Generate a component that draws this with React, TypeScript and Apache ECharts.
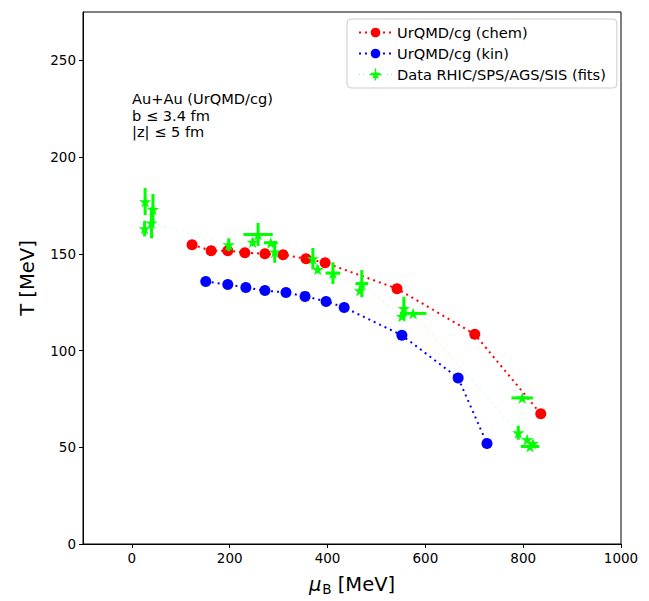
import React, { useEffect, useRef } from "react";
import * as echarts from "echarts";

const xTicks = [0, 200, 400, 600, 800, 1000];
const yTicks = [0, 50, 100, 150, 200, 250];

const chemX = [123, 162, 196, 231, 272, 309, 356, 395, 542, 701, 836];
const chemY = [154.7, 151.6, 151.6, 150.6, 150.0, 149.5, 147.5, 145.4, 132, 108.4, 67.3];

const kinX = [151, 196, 233, 272, 315, 354, 397, 434, 552, 667, 726];
const kinY = [135.7, 134.1, 132.6, 131.0, 130.0, 128.0, 125.4, 122.3, 107.9, 85.8, 51.9];

const dataX = [27, 43, 26, 40, 198, 247, 258, 284, 292, 370, 380, 411, 466, 470, 552, 556, 575, 790, 798, 808, 814, 820];
const dataY = [177, 173, 163, 166, 154.7, 156, 160, 155.7, 151, 147.5, 142, 140, 131, 134.6, 117.7, 121.8, 119.2, 57.5, 75.5, 54, 50.4, 52];
const dataXErr = [0, 0, 0, 0, 0, 0, 30, 14, 0, 0, 0, 15, 0, 13, 0, 0, 27, 0, 22, 0, 19, 0];
const dataYErr = [7, 8, 4, 8, 3.3, 2, 6, 0, 5.6, 5.5, 2, 5.6, 0, 7, 0, 6, 0, 3.6, 0, 0, 0, 0];

const seriesNames = ["UrQMD/cg (chem)", "UrQMD/cg (kin)", "Data RHIC/SPS/AGS/SIS (fits)"];
const noteLines = ["Au+Au (UrQMD/cg)", "b \u2264 3.4 fm", "|z| \u2264 5 fm"];

const FONT = "DejaVu Sans";
const GREEN = "#00ff00";

function starPts(cx: number, cy: number, r: number, ri: number): string {
  const pts: string[] = [];
  for (let k = 0; k < 10; k++) {
    const a = -Math.PI / 2 + (k * Math.PI) / 5;
    const rr = k % 2 === 0 ? r : ri;
    pts.push((cx + rr * Math.cos(a)).toFixed(3) + " " + (cy + rr * Math.sin(a)).toFixed(3));
  }
  return "M" + pts.join(" L") + " Z";
}

const starSymbol = "path://" + starPts(0, 0, 1, 0.38);

function rectP(x: number, y: number, w: number, h: number): string {
  return `M${x} ${y} L${x + w} ${y} L${x + w} ${y + h} L${x} ${y + h} Z`;
}

const legendGreenIcon =
  "path://" +
  [
    rectP(0, 5.7, 1, 0.6),
    rectP(4, 5.7, 1, 0.6),
    rectP(28, 5.7, 1, 0.6),
    rectP(32, 5.7, 1, 0.6),
    rectP(15.8, 0, 1.4, 12),
    rectP(10.5, 5.3, 12, 1.4),
    starPts(16.5, 6, 5.5, 2.1),
  ].join(" ");

export default function App() {
  const ref = useRef<HTMLDivElement>(null);
  useEffect(() => {
    document.body.style.margin = "0";
    const chart = echarts.init(ref.current!, null, { renderer: "svg" });
    const axisCommon = {
      axisLine: { show: true, onZero: false, lineStyle: { color: "#000", width: 1 } },
      axisTick: { show: true, inside: false, length: 4, lineStyle: { color: "#000" } },
      splitLine: { show: false },
    };
    const option: any = {
      animation: false,
      backgroundColor: "#fff",
      grid: {
        left: 83,
        top: 12,
        width: 538,
        height: 535,
        show: true,
        borderColor: "#000",
        borderWidth: 1,
        backgroundColor: "transparent",
      },
      xAxis: {
        type: "value",
        min: -100,
        max: 1000,
        ...axisCommon,
        axisTick: { ...axisCommon.axisTick, customValues: xTicks },
        axisLabel: {
          customValues: xTicks,
          formatter: (v: number) => String(v),
          color: "#000",
          fontFamily: FONT,
          fontSize: 13.5,
          margin: 7,
        },
        name: "{i|\u03bc}{s|B}{t| [MeV]}",
        nameLocation: "middle",
        nameGap: 29,
        nameTextStyle: {
          color: "#000",
          fontFamily: FONT,
          rich: {
            i: { fontFamily: FONT, fontStyle: "italic", fontSize: 19.5, color: "#000" },
            s: { fontFamily: FONT, fontSize: 13.5, color: "#000", padding: [9, 0, 0, 1] },
            t: { fontFamily: FONT, fontSize: 19.5, color: "#000" },
          },
        },
      },
      yAxis: {
        type: "value",
        min: 0,
        max: 275,
        ...axisCommon,
        axisTick: { ...axisCommon.axisTick, customValues: yTicks },
        axisLabel: {
          customValues: yTicks,
          formatter: (v: number) => String(v),
          color: "#000",
          fontFamily: FONT,
          fontSize: 13.5,
          margin: 7,
        },
        name: "T [MeV]",
        nameLocation: "middle",
        nameGap: 46,
        nameTextStyle: { color: "#000", fontFamily: FONT, fontSize: 19.5 },
      },
      legend: {
        orient: "vertical",
        left: 347,
        top: 19,
        padding: [5, 11, 5, 11],
        itemGap: 4,
        itemWidth: 33,
        itemHeight: 12,
        borderColor: "#cccccc",
        borderWidth: 1,
        borderRadius: 4,
        backgroundColor: "#fff",
        textStyle: { color: "#000", fontFamily: FONT, fontSize: 14.6, lineHeight: 17 },
        data: [
          { name: seriesNames[0] },
          { name: seriesNames[1] },
          { name: seriesNames[2], icon: legendGreenIcon, itemStyle: { color: GREEN } },
        ],
      },
      graphic: noteLines.map((t, i) => ({
        type: "text",
        left: 132,
        top: 91 + i * 16.5,
        style: { text: t, fill: "#000", font: `14.6px "${FONT}"` },
      })),
      series: [
        {
          name: seriesNames[0],
          type: "line",
          data: chemX.map((x, i) => [x, chemY[i]]),
          symbol: "circle",
          symbolSize: 11,
          itemStyle: { color: "#ff0000" },
          lineStyle: { color: "#ff0000", width: 2, type: [2, 4] },
          z: 2,
        },
        {
          name: seriesNames[1],
          type: "line",
          data: kinX.map((x, i) => [x, kinY[i]]),
          symbol: "circle",
          symbolSize: 11,
          itemStyle: { color: "#0000ff" },
          lineStyle: { color: "#0000ff", width: 2, type: [2, 4] },
          z: 2,
        },
        {
          name: seriesNames[2] + " err",
          type: "custom",
          data: dataX.map((x, i) => [x, dataY[i], dataXErr[i], dataYErr[i]]),
          encode: { x: 0, y: 1 },
          z: 3,
          renderItem: (params: any, api: any) => {
            const x = api.value(0);
            const y = api.value(1);
            const xe = api.value(2);
            const ye = api.value(3);
            const children: any[] = [];
            if (ye > 0) {
              const p1 = api.coord([x, y - ye]);
              const p2 = api.coord([x, y + ye]);
              children.push({
                type: "line",
                shape: { x1: p1[0], y1: p1[1], x2: p2[0], y2: p2[1] },
                style: { stroke: GREEN, lineWidth: 3 },
              });
            }
            if (xe > 0) {
              const p1 = api.coord([x - xe, y]);
              const p2 = api.coord([x + xe, y]);
              children.push({
                type: "line",
                shape: { x1: p1[0], y1: p1[1], x2: p2[0], y2: p2[1] },
                style: { stroke: GREEN, lineWidth: 3 },
              });
            }
            return { type: "group", children };
          },
        },
        {
          name: seriesNames[2],
          type: "line",
          data: dataX.map((x, i) => [x, dataY[i]]),
          symbol: starSymbol,
          symbolSize: 12,
          itemStyle: { color: GREEN },
          lineStyle: { color: GREEN, width: 2, type: [2, 4], opacity: 0.1 },
          z: 4,
        },
      ],
    };
    chart.setOption(option);
    return () => chart.dispose();
  }, []);
  return <div ref={ref} style={{ width: 649, height: 601 }} />;
}
